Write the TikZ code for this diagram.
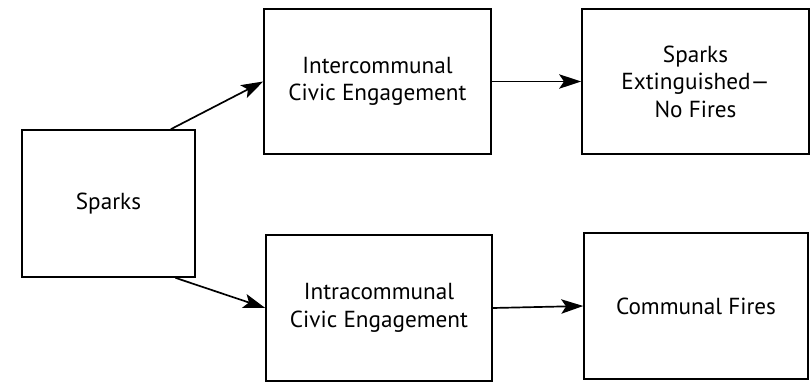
\documentclass[tikz,border=0pt]{standalone}
\usepackage{fontspec}
\setmainfont{PT Sans}
\usepackage{tikz}
\usetikzlibrary{arrows.meta}

\tikzset{
  box/.style={draw, line width=1pt, align=center, inner sep=0pt,
    font=\fontsize{16.5}{19.5}\selectfont},
  link/.style={line width=1.2pt, -{Stealth[length=5.5mm, width=3.6mm, inset=1.2mm]}}
}

\begin{document}
\begin{tikzpicture}[x=0.025cm, y=-0.025cm]
  \useasboundingbox (0,0) rectangle (810,382);
  % boxes
  \node [box, minimum width=4.33cm, minimum height=3.68cm] (spk) at (108.5,203.5) {Sparks};
  \node [box, minimum width=5.68cm, minimum height=3.63cm] (inter) at (377.5,81.5) {Intercommunal\\Civic Engagement};
  \node [box, minimum width=5.68cm, minimum height=3.63cm] (ext) at (695.5,81.5) {Sparks\\Extinguished---\\No Fires};
  \node [box, minimum width=5.65cm, minimum height=3.65cm] (intra) at (379,308) {Intracommunal\\Civic Engagement};
  \node [box, minimum width=5.6cm, minimum height=3.65cm] (fires) at (696,306) {Communal Fires};
  % arrows
  \draw [link] (spk.50) -- (inter.west);
  \draw [link] (spk.-48) -- (intra.west);
  \draw [link] (inter.east) -- (ext.west);
  \draw [link] (intra.east) -- (fires.west);
\end{tikzpicture}
\end{document}
